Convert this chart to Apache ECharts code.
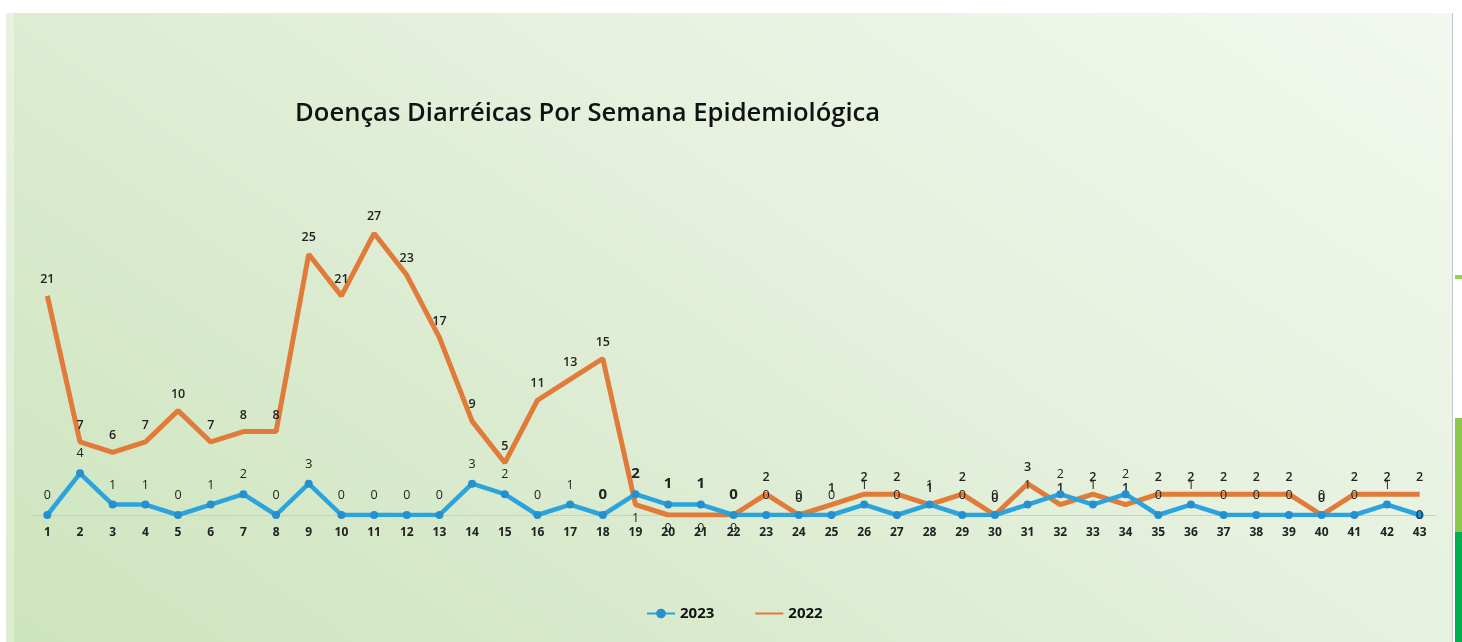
<!DOCTYPE html>
<html>
<head>
<meta charset="utf-8">
<script src="https://cdn.jsdelivr.net/npm/echarts@6/dist/echarts.min.js"></script>
<style>
html,body{margin:0;padding:0;width:1462px;height:642px;overflow:hidden;background:#ffffff;}
#bg{position:absolute;left:6px;top:13px;width:1446px;height:629px;
  background:linear-gradient(35deg,#cde5bd 0%,#d9eacd 30%,#e6f1de 60%,#f2f8ef 100%);
  border-right:1px solid #c8c8c8;}
#edge{position:absolute;left:6px;top:13px;width:8px;height:629px;background:rgba(255,255,255,0.3);}
#g1{position:absolute;left:1455px;top:275px;width:7px;height:4px;background:#92d050;}
#g2{position:absolute;left:1455px;top:418px;width:7px;height:114px;background:#8cc84b;}
#g3{position:absolute;left:1455px;top:532px;width:7px;height:110px;background:#00b050;}
#chart{position:absolute;left:0;top:0;width:1462px;height:642px;}
</style>
</head>
<body>
<div id="bg"></div><div id="edge"></div>
<div id="g1"></div><div id="g2"></div><div id="g3"></div>
<div id="chart"></div>
<script>
const weeks = ['1','2','3','4','5','6','7','8','9','10','11','12','13','14','15','16','17','18','19','20','21','22','23','24','25','26','27','28','29','30','31','32','33','34','35','36','37','38','39','40','41','42','43'];
const values2023 = [0,4,1,1,0,1,2,0,3,0,0,0,0,3,2,0,1,0,2,1,1,0,0,0,0,1,0,1,0,0,1,2,1,2,0,1,0,0,0,0,0,1,0];
const values2022 = [21,7,6,7,10,7,8,8,25,21,27,23,17,9,5,11,13,15,1,0,0,0,2,0,1,2,2,1,2,0,3,1,2,1,2,2,2,2,2,0,2,2,2];
const titleText = 'Doenças Diarréicas Por Semana Epidemiológica';

const bigBlue = [17,18,19,20,21];
const belowOrange = [18,19,20,21];

const blueData = values2023.map((v,i)=>{
  const o = {value:v};
  if (bigBlue.includes(i)) o.label = {fontSize:15, fontWeight:'bold'};
  if (i===42) o.label = {position:'inside'};
  return o;
});
const orangeData = values2022.map((v,i)=>{
  const o = {value:v};
  if (belowOrange.includes(i)) o.label = {position:'bottom', fontWeight:'normal', distance:6};
  return o;
});

const chart = echarts.init(document.getElementById('chart'));
chart.setOption({
  backgroundColor:'transparent',
  animation:false,
  title:{text:titleText,left:290,top:96,
    textStyle:{fontFamily:'Open Sans',fontWeight:600,fontSize:25.6,color:'#111'}},
  legend:{left:641,top:601,itemWidth:28,itemHeight:12,itemGap:40,
    textStyle:{fontFamily:'Open Sans',fontWeight:'bold',fontSize:15,color:'#111'},
    data:['2023','2022']},
  grid:{left:31,right:26,top:202,bottom:127},
  xAxis:{type:'category',data:weeks,boundaryGap:true,
    axisLine:{lineStyle:{color:'#c9cfc4',width:1}},axisTick:{show:false},
    axisLabel:{margin:12,fontFamily:'Open Sans',fontWeight:'bold',fontSize:12,color:'#222'}},
  yAxis:{type:'value',min:0,max:30,interval:5,show:false,splitLine:{show:false}},
  series:[
    {name:'2023',type:'line',data:blueData,z:3,
      symbol:'circle',symbolSize:8,
      lineStyle:{color:'#2ba3dc',width:4.5},
      itemStyle:{color:'#2590cf'},
      label:{show:true,position:'top',distance:9,fontFamily:'Open Sans',fontSize:12.5,color:'#222'}},
    {name:'2022',type:'line',data:orangeData,z:2,
      symbol:'circle',symbolSize:2,showSymbol:true,
      lineStyle:{color:'#e07b3a',width:5},
      itemStyle:{color:'rgba(0,0,0,0)',borderWidth:0},
      label:{show:true,position:'top',distance:9,fontFamily:'Open Sans',fontSize:12.5,fontWeight:600,color:'#222'}}
  ]
});
</script>
</body>
</html>
